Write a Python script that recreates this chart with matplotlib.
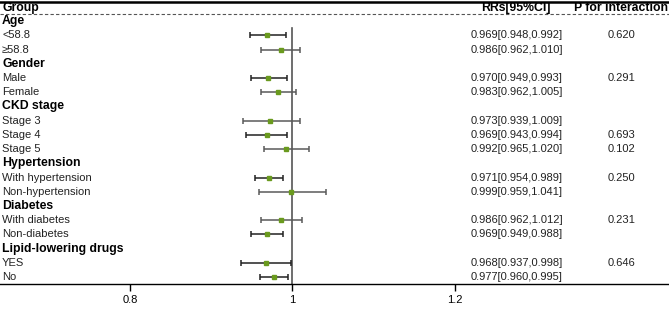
import numpy as np
import matplotlib.pyplot as plt

plt.rcParams['font.family'] = ['Liberation Sans', 'DejaVu Sans']

# --- data ---
labels = ['Age', '<58.8', '≥58.8', 'Gender', 'Male', 'Female',
          'CKD stage', 'Stage 3', 'Stage 4', 'Stage 5',
          'Hypertension', 'With hypertension', 'Non-hypertension',
          'Diabetes', 'With diabetes', 'Non-diabetes',
          'Lipid-lowering drugs', 'YES', 'No']
is_header = [True, False, False, True, False, False,
             True, False, False, False,
             True, False, False,
             True, False, False,
             True, False, False]
rr = [np.nan, 0.969, 0.986, np.nan, 0.970, 0.983,
      np.nan, 0.973, 0.969, 0.992,
      np.nan, 0.971, 0.999,
      np.nan, 0.986, 0.969,
      np.nan, 0.968, 0.977]
lo = [np.nan, 0.948, 0.962, np.nan, 0.949, 0.962,
      np.nan, 0.939, 0.943, 0.965,
      np.nan, 0.954, 0.959,
      np.nan, 0.962, 0.949,
      np.nan, 0.937, 0.960]
hi = [np.nan, 0.992, 1.010, np.nan, 0.993, 1.005,
      np.nan, 1.009, 0.994, 1.020,
      np.nan, 0.989, 1.041,
      np.nan, 1.012, 0.988,
      np.nan, 0.998, 0.995]
p_int = ['', '0.620', '', '', '0.291', '',
         '', '', '0.693', '0.102',
         '', '0.250', '',
         '', '0.231', '',
         '', '0.646', '']
xticks = [0.8, 1.0, 1.2]
xtick_labels = ['0.8', '1', '1.2']

FS = 8.0    # body text
FSB = 8.8   # bold headers

# --- figure ---
fig = plt.figure(figsize=(6.69, 3.11), dpi=100)
ax = fig.add_axes([0, 27 / 311, 1, 284 / 311])
ax.set_xlim(0.64, 1.464)
ax.set_ylim(19.49, -0.49)

for s in ['top', 'left', 'right']:
    ax.spines[s].set_visible(False)
ax.spines['bottom'].set_linewidth(1.0)
ax.set_yticks([])
ax.set_xticks(xticks)
ax.set_xticklabels(xtick_labels, fontsize=FS)
ax.tick_params(axis='x', length=5, width=1.0, pad=3)

tr = ax.get_yaxis_transform()

# header lines
ax.plot([0, 1], [-0.37, -0.37], transform=tr, color='black', lw=1.8, clip_on=False)
ax.plot([0, 1], [0.5, 0.5], transform=tr, color='#555555', lw=0.8, ls=(0, (3, 2)), clip_on=False)

# header texts
hy = 0.06
ax.text(0.003, hy, 'Group', transform=tr, fontsize=FSB, fontweight='bold', va='center', ha='left')
ax.text(481 / 669, hy, 'RRs[95%CI]', transform=tr, fontsize=FSB, fontweight='bold', va='center', ha='left')
ax.text(0.998, hy, 'P for interaction', transform=tr, fontsize=FSB, fontweight='bold', va='center', ha='right')

# reference line
ax.plot([1, 1], [1.48, 19.49], color='#555555', lw=1.2)

for i, lab in enumerate(labels):
    y = i + 1
    if is_header[i]:
        ax.text(0.003, y, lab, transform=tr, fontsize=FSB, fontweight='bold', va='center', ha='left')
        continue
    ax.text(0.003, y, lab, transform=tr, fontsize=FS, va='center', ha='left', color='#222222')
    c = '#222222' if hi[i] < 1 else '#5a5a5a'
    ax.errorbar(rr[i], y, xerr=[[rr[i] - lo[i]], [hi[i] - rr[i]]], fmt='none',
                ecolor=c, elinewidth=1.1, capsize=2.5, capthick=1.1)
    ax.plot(rr[i], y, 's', color='#6a9a1e', markersize=2.6, zorder=3)
    ax.text(471 / 669, y, f'{rr[i]:.3f}[{lo[i]:.3f},{hi[i]:.3f}]', transform=tr,
            fontsize=FS, va='center', ha='left', color='#222222')
    if p_int[i]:
        ax.text(608 / 669, y, p_int[i], transform=tr, fontsize=FS, va='center', ha='left', color='#222222')

fig.savefig('out.png', dpi=100)
